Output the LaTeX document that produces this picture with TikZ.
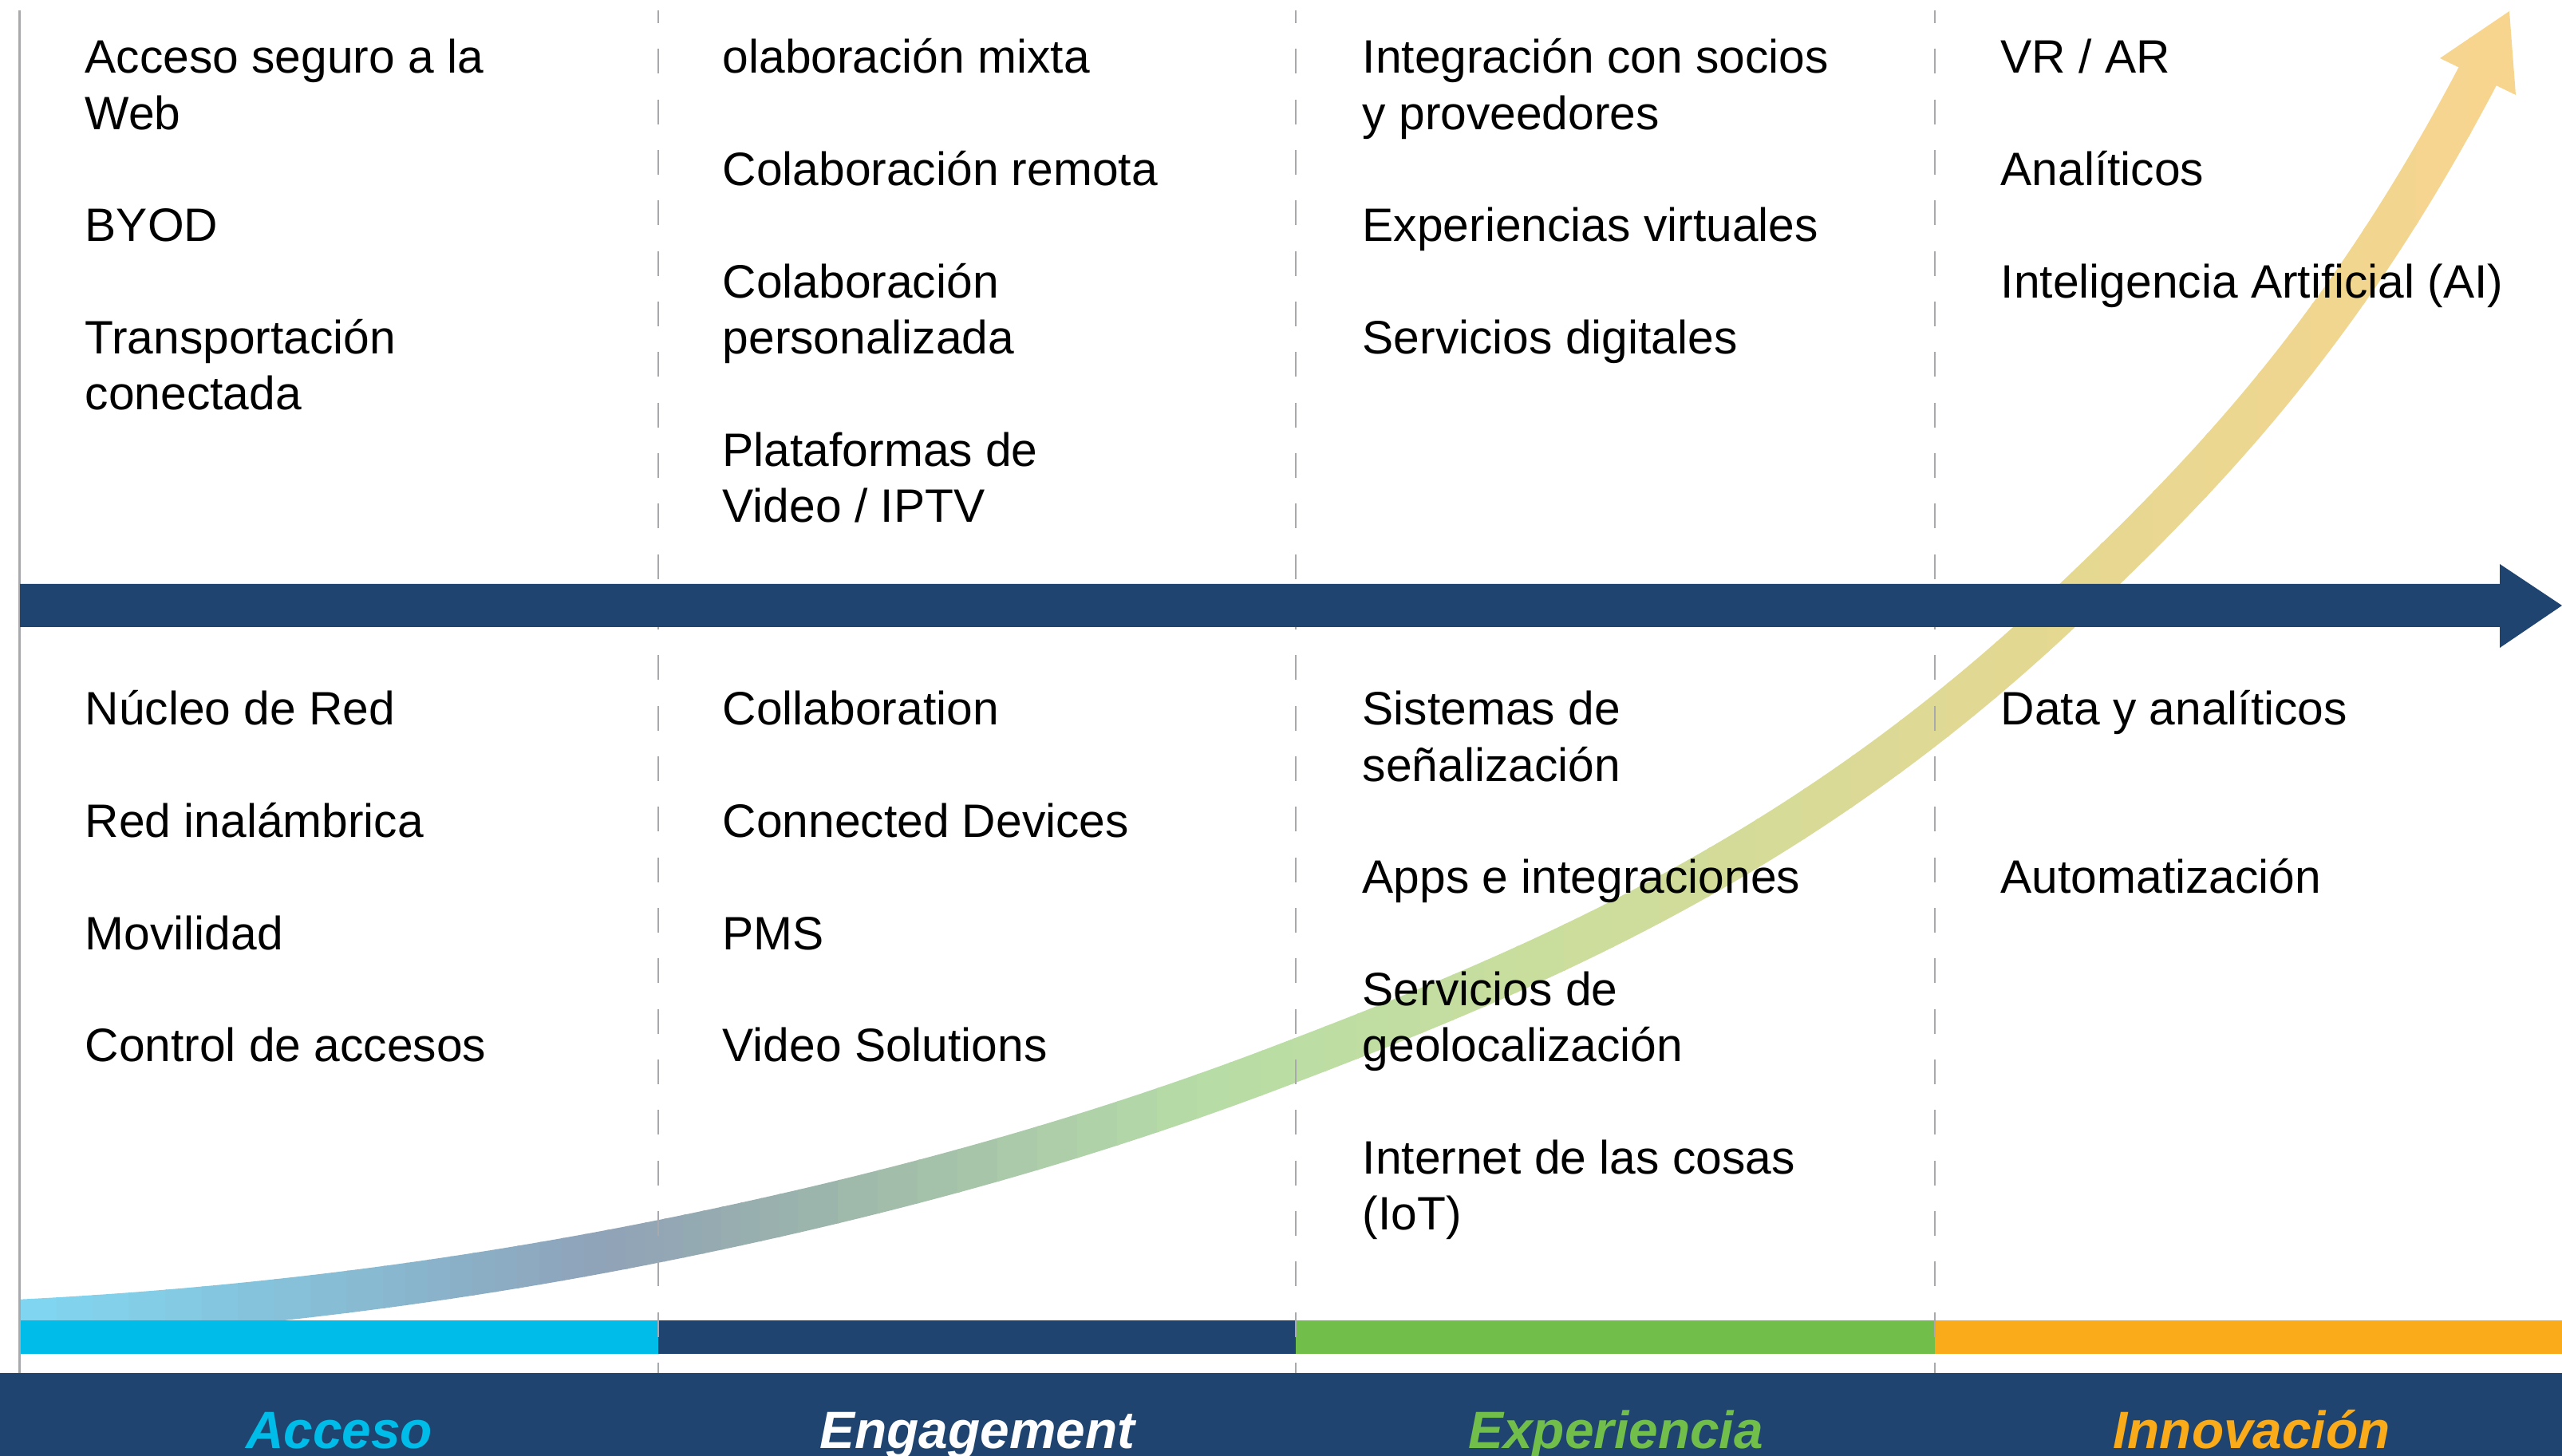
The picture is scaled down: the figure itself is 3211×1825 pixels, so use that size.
\documentclass[tikz,border=0pt]{standalone}
\usepackage{fontspec}
\setmainfont{Liberation Sans}

\definecolor{navy}{HTML}{1F4470}
\definecolor{acccyan}{HTML}{00BCE8}
\definecolor{expgreen}{HTML}{72BE4B}
\definecolor{innorange}{HTML}{FAAB1A}
\definecolor{sepgray}{HTML}{A7A9AC}
% gradient stops of the trend arrow
\definecolor{tr0}{HTML}{80D8F2}
\definecolor{tr1}{HTML}{88B8D0}
\definecolor{tr2}{HTML}{8FA2B8}
\definecolor{tr3}{HTML}{9BB3AC}
\definecolor{tr4}{HTML}{B6DCA6}
\definecolor{tr5}{HTML}{C8DE9E}
\definecolor{tr6}{HTML}{E2D892}
\definecolor{tr7}{HTML}{F8D58E}

\newcommand{\itemfont}{\fontsize{16.7}{20}\selectfont}
\newcommand{\phasefont}{\fontsize{18.7}{22}\selectfont\bfseries\itshape}
\newcommand{\trendcurve}[1]{\draw[line width=0.525cm,color=#1] (5,1656) -- (25,1655)
    .. controls (291.7,1641.7) and (558.3,1609.3) .. (825,1556)
    .. controls (1083.3,1504.3) and (1341.7,1436.2) .. (1600,1338)
    .. controls (1930.3,1212.5) and (2260.7,1072.8) .. (2591,759)
    .. controls (2762.3,596.3) and (2933.7,421.5) .. (3105,96) -- (3110,87);}

\begin{document}
\begin{tikzpicture}[x=0.01cm, y=-0.01cm,
    item/.style={anchor=base west, inner sep=0pt, font=\itemfont},
    phase/.style={anchor=base, inner sep=0pt, font=\phasefont},
    sep/.style={sepgray, line width=0.7pt, dash pattern=on 8.82pt off 9.19pt, dash phase=4.27pt}]

    \useasboundingbox (0,0) rectangle (3211,1825);

    \def \colA {106}
    \def \colB {905}
    \def \colC {1707}
    \def \colD {2507}
    \def \topy {92}
    \def \boty {909}
    \def \lsk {70.3}

    % Trend arrow: horizontal gradient, one clipped strip at a time
    \foreach \xa/\xb/\ca/\cb in {25/480/tr0/tr1, 480/760/tr1/tr2, 760/1000/tr2/tr3, 1000/1500/tr3/tr4, 1500/1900/tr4/tr5, 1900/2500/tr5/tr6, 2500/3160/tr6/tr7}{
      \foreach \k in {0,...,9}{
        \pgfmathsetmacro\sa{\xa+(\xb-\xa)*\k/10}
        \pgfmathsetmacro\sb{\xa+(\xb-\xa)*(\k+1)/10+3}
        \pgfmathtruncatemacro\p{95-10*\k}
        \colorlet{stripcol}{\ca!\p!\cb}
        \begin{scope}
          \clip (\sa,0) rectangle (\sb,1720);
          \trendcurve{stripcol}
          \fill[stripcol] (3058,73) -- (3145,14) -- (3153,119) -- cycle;
        \end{scope}
      }
    }

    % Phase bars
    \fill[acccyan] (25,1655) rectangle (825,1697);
    \fill[navy] (825,1655) rectangle (1624,1697);
    \fill[expgreen] (1624,1655) rectangle (2425,1697);
    \fill[innorange] (2425,1655) rectangle (3211,1697);

    % Column separators
    \foreach \xs in {825,1624,2425}
      \draw[sep] (\xs,13) -- (\xs,1721);
    \draw[sepgray, line width=0.6pt] (24.5,13) -- (24.5,1721);

    % Time line
    \fill[navy] (25,732) -- (3133,732) -- (3133,707) -- (3211,759) -- (3133,812) -- (3133,786) -- (25,786) -- cycle;

    % Bottom band
    \fill[navy] (0,1721) rectangle (3211,1825);
    \node[phase, text=acccyan] (pa) at (425,1815) {Acceso};
    \node[phase, text=white] (pb) at (1225,1815) {Engagement};
    \node[phase, text=expgreen] (pc) at (2025,1815) {Experiencia};
    \node[phase, text=innorange] (pd) at (2822,1815) {Innovación};

    % Upper lists
    \foreach \n/\t in {0/Acceso seguro a la, 1/Web, 3/BYOD, 5/Transportación, 6/conectada}
      \node[item] (ta\n) at (\colA,\topy+\lsk*\n) {\t};
    \foreach \n/\t in {0/olaboración mixta, 2/Colaboración remota, 4/Colaboración, 5/personalizada, 7/Plataformas de, 8/{Video / IPTV}}
      \node[item] (tb\n) at (\colB,\topy+\lsk*\n) {\t};
    \foreach \n/\t in {0/Integración con socios, 1/y proveedores, 3/Experiencias virtuales, 5/Servicios digitales}
      \node[item] (tc\n) at (\colC,\topy+\lsk*\n) {\t};
    \foreach \n/\t in {0/{VR / AR}, 2/Analíticos, 4/Inteligencia Artificial (AI)}
      \node[item] (td\n) at (\colD,\topy+\lsk*\n) {\t};

    % Lower lists
    \foreach \n/\t in {0/Núcleo de Red, 2/Red inalámbrica, 4/Movilidad, 6/Control de accesos}
      \node[item] (ba\n) at (\colA,\boty+\lsk*\n) {\t};
    \foreach \n/\t in {0/Collaboration, 2/Connected Devices, 4/PMS, 6/Video Solutions}
      \node[item] (bb\n) at (\colB,\boty+\lsk*\n) {\t};
    \foreach \n/\t in {0/Sistemas de, 1/señalización, 3/Apps e integraciones, 5/Servicios de, 6/geolocalización, 8/Internet de las cosas, 9/(IoT)}
      \node[item] (bc\n) at (\colC,\boty+\lsk*\n) {\t};
    \foreach \n/\t in {0/Data y analíticos, 3/Automatización}
      \node[item] (bd\n) at (\colD,\boty+\lsk*\n) {\t};

\end{tikzpicture}
\end{document}
